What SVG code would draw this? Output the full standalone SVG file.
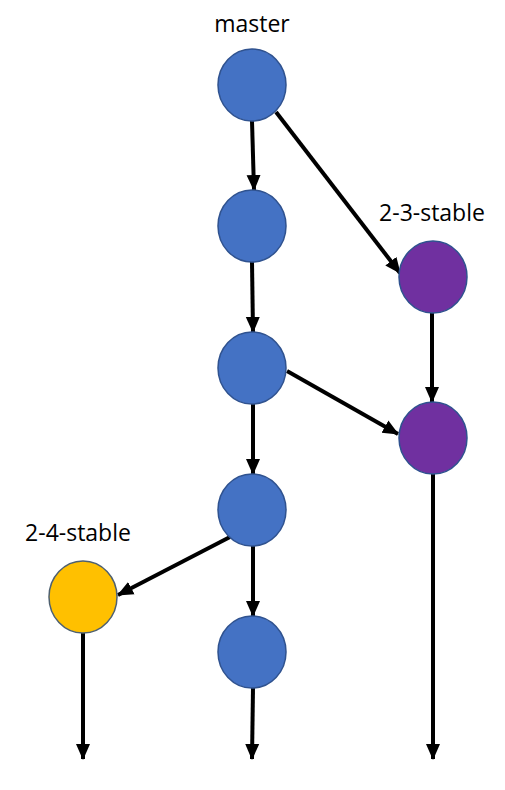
<svg xmlns="http://www.w3.org/2000/svg" width="505" height="790" viewBox="0 0 505 790">
<style>
.n{stroke:#2F528F;stroke-width:1.5}
.b{fill:#4472C4}
.p{fill:#7030A0}
.y{fill:#FFC000;stroke:#4E6070}
.e{stroke:#000;stroke-width:4;fill:none;marker-end:url(#a)}
text{font-family:"Open Sans","Noto Sans",sans-serif;font-size:23px;fill:#000}
</style>
<defs>
<marker id="a" markerUnits="userSpaceOnUse" markerWidth="16" markerHeight="16" viewBox="0 0 16 16" refX="15" refY="8" orient="auto">
<path d="M0,1 L16,8 L0,15 Z" fill="#000"/>
</marker>
</defs>
<rect width="505" height="790" fill="#fff"/>
<g id="connectors">
<line class="e" x1="252" y1="121" x2="254" y2="190"/>
<line class="e" x1="276" y1="112" x2="400" y2="273"/>
<line class="e" x1="252" y1="262" x2="253" y2="332"/>
<line class="e" x1="432" y1="313" x2="432" y2="402"/>
<line class="e" x1="287" y1="371" x2="398" y2="434"/>
<line class="e" x1="253" y1="404" x2="253" y2="474"/>
<line class="e" x1="230" y1="537" x2="118" y2="595"/>
<line class="e" x1="253" y1="546" x2="253" y2="616"/>
<line class="e" x1="83" y1="633" x2="83" y2="759"/>
<line class="e" x1="253" y1="688" x2="252" y2="759"/>
<line class="e" x1="433" y1="474" x2="433" y2="759"/>
</g>
<g id="n1"><ellipse class="n b" cx="252" cy="85" rx="34" ry="36"/></g>
<g id="n2"><ellipse class="n b" cx="252" cy="226" rx="34" ry="36"/></g>
<g id="n3"><ellipse class="n b" cx="252" cy="368" rx="34" ry="36"/></g>
<g id="n4"><ellipse class="n b" cx="252" cy="510" rx="34" ry="36"/></g>
<g id="n5"><ellipse class="n b" cx="252" cy="652" rx="34" ry="36"/></g>
<g id="p1"><ellipse class="n p" cx="433" cy="277" rx="34" ry="36"/></g>
<g id="p2"><ellipse class="n p" cx="433" cy="438" rx="34" ry="36"/></g>
<g id="y1"><ellipse class="n y" cx="83" cy="597" rx="34" ry="36"/></g>
<g id="labels">
<text x="252" y="32" text-anchor="middle">master</text>
<text x="432" y="221" text-anchor="middle">2-3-stable</text>
<text x="78" y="541" text-anchor="middle">2-4-stable</text>
</g>
</svg>
